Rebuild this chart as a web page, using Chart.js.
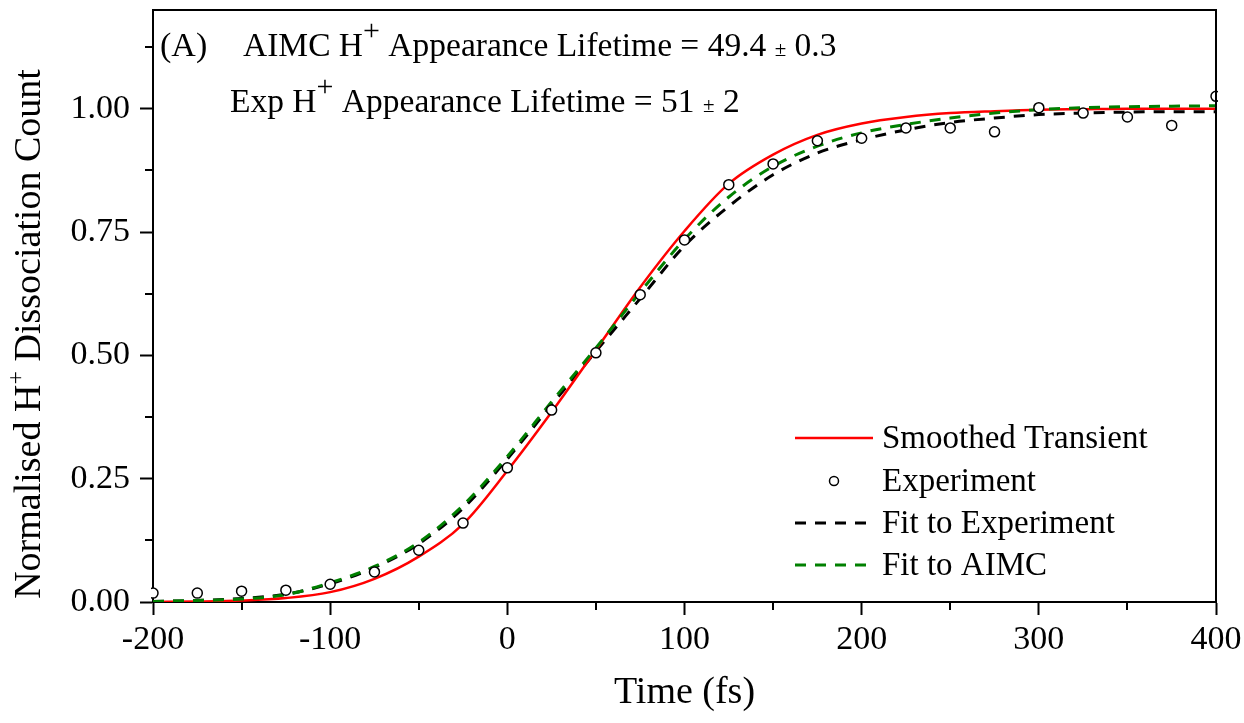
<!DOCTYPE html>
<html>
<head>
<meta charset="utf-8">
<script src="https://cdn.jsdelivr.net/npm/chart.js@4/dist/chart.umd.min.js"></script>
<style>
  html, body { margin: 0; padding: 0; background: #fff; }
  #wrap { width: 1244px; height: 723px; }
</style>
</head>
<body>
<div id="wrap"><canvas id="c" width="1244" height="723"></canvas></div>
<script>
// time axis (fs)
var timeFs = [-200, -175, -150, -125, -100, -75, -50, -25, 0, 25, 50, 75, 100,
              125, 150, 175, 200, 225, 250, 275, 300, 325, 350, 375, 400];
// experiment points
var expCounts = [0.018, 0.018, 0.022, 0.024, 0.036, 0.061, 0.105, 0.160, 0.272, 0.389, 0.505, 0.623, 0.734,
                 0.846, 0.888, 0.935, 0.940, 0.961, 0.961, 0.953, 1.002, 0.991, 0.983, 0.966, 1.025];
// curves sampled at the same times
var smoothed = [0.000, 0.001, 0.003, 0.008, 0.020, 0.047, 0.092, 0.158, 0.266, 0.385, 0.511, 0.638, 0.752,
                0.848, 0.907, 0.947, 0.970, 0.983, 0.991, 0.995, 0.998, 0.999, 1.000, 1.000, 1.000];
var fitExp = [0.001, 0.003, 0.007, 0.016, 0.037, 0.070, 0.118, 0.190, 0.290, 0.400, 0.508, 0.615, 0.722,
              0.802, 0.866, 0.910, 0.937, 0.957, 0.972, 0.981, 0.988, 0.991, 0.993, 0.994, 0.994];
var fitAimc = [0.001, 0.003, 0.006, 0.015, 0.039, 0.072, 0.121, 0.196, 0.295, 0.406, 0.515, 0.628, 0.735,
               0.821, 0.883, 0.924, 0.951, 0.968, 0.981, 0.991, 0.998, 1.002, 1.004, 1.005, 1.006];

var xTicks = [-200, -100, 0, 100, 200, 300, 400];
var xMinor = [-150, -50, 50, 150, 250, 350];
var yTicks = [0, 0.25, 0.5, 0.75, 1.0];
var yMinor = [0.125, 0.375, 0.625, 0.875, 1.125];

var serif = '"Liberation Serif", "Times New Roman", serif';

function pts(ys) {
    return timeFs.map(function (t, i) { return { x: t, y: ys[i] }; });
}

// minor ticks, frame, legend and text labels
var extras = {
    id: 'extras',
    afterDatasetsDraw: function (chart) {
        var ctx = chart.ctx;
        var a = chart.chartArea;
        var xs = chart.scales.x, ys = chart.scales.y;
        ctx.save();
        ctx.strokeStyle = '#000';
        ctx.lineWidth = 2;
        // frame top and right
        ctx.beginPath();
        ctx.moveTo(a.left, a.top);
        ctx.lineTo(a.right, a.top);
        ctx.lineTo(a.right, a.bottom);
        ctx.stroke();
        // minor ticks
        ctx.beginPath();
        xMinor.forEach(function (v) {
            var px = Math.round(xs.getPixelForValue(v));
            ctx.moveTo(px, a.bottom);
            ctx.lineTo(px, a.bottom + 8);
        });
        yMinor.forEach(function (v) {
            var py = Math.round(ys.getPixelForValue(v));
            ctx.moveTo(a.left, py);
            ctx.lineTo(a.left - 8, py);
        });
        ctx.stroke();

        // legend
        var rows = [438, 481, 523, 565];
        var ds = chart.data.datasets;
        var order = [1, 0, 3, 2];
        ctx.font = '33px ' + serif;
        ctx.fillStyle = '#000';
        ctx.textBaseline = 'middle';
        ctx.textAlign = 'left';
        order.forEach(function (di, r) {
            var d = ds[di];
            var y = rows[r];
            if (d.showLine === false) {
                ctx.beginPath();
                ctx.setLineDash([]);
                ctx.lineWidth = 1.5;
                ctx.strokeStyle = d.pointBorderColor;
                ctx.fillStyle = '#fff';
                ctx.arc(834, y, 4.5, 0, Math.PI * 2);
                ctx.fill();
                ctx.stroke();
            } else {
                ctx.beginPath();
                ctx.setLineDash(d.borderDash || []);
                ctx.lineWidth = d.borderWidth;
                ctx.strokeStyle = d.borderColor;
                ctx.moveTo(795, y);
                ctx.lineTo(873, y);
                ctx.stroke();
            }
            ctx.setLineDash([]);
            ctx.fillStyle = '#000';
            ctx.fillText(d.label, 882, y + 1);
        });
        ctx.restore();
    },
    afterDraw: function (chart) {
        var ctx = chart.ctx;
        var a = chart.chartArea;
        ctx.save();
        ctx.fillStyle = '#000';
        ctx.textBaseline = 'alphabetic';
        ctx.textAlign = 'left';

        // run of text pieces: [text, size, raise]
        function run(x, y, parts) {
            parts.forEach(function (p) {
                ctx.font = p[1] + 'px ' + serif;
                ctx.fillText(p[0], x, y - (p[2] || 0));
                x += ctx.measureText(p[0]).width;
            });
        }
        run(160, 56, [['(A)', 34]]);
        run(243, 56, [['AIMC H', 33.5], ['+', 30, 16], [' Appearance Lifetime = 49.4 ', 33.5], ['\u00b1', 21], [' 0.3', 33.5]]);
        run(230, 112, [['Exp H', 33.5], ['+', 30, 16], [' Appearance Lifetime = 51 ', 33.5], ['\u00b1', 21], [' 2', 33.5]]);

        // x title
        ctx.font = '38px ' + serif;
        ctx.textAlign = 'center';
        ctx.textBaseline = 'alphabetic';
        ctx.fillText('Time (fs)', (a.left + a.right) / 2, 703);

        // y title, rotated, with superscript
        ctx.translate(40, 334);
        ctx.rotate(-Math.PI / 2);
        ctx.textBaseline = 'alphabetic';
        ctx.textAlign = 'left';
        var p1 = 'Normalised H', p2 = '+', p3 = ' Dissociation Count';
        ctx.font = '38px ' + serif;
        var w1 = ctx.measureText(p1).width, w3 = ctx.measureText(p3).width;
        ctx.font = '24px ' + serif;
        var w2 = ctx.measureText(p2).width;
        var x0 = -(w1 + w2 + w3) / 2;
        ctx.font = '38px ' + serif;
        ctx.fillText(p1, x0, 0);
        ctx.font = '24px ' + serif;
        ctx.fillText(p2, x0 + w1, -17);
        ctx.font = '38px ' + serif;
        ctx.fillText(p3, x0 + w1 + w2, 0);
        ctx.restore();
    }
};

new Chart(document.getElementById('c'), {
    type: 'line',
    data: {
        datasets: [
            {
                label: 'Experiment',
                data: pts(expCounts),
                showLine: false,
                pointRadius: 5,
                pointBorderWidth: 1.5,
                pointBorderColor: '#000',
                pointBackgroundColor: '#fff',
                borderColor: '#000',
                order: 0,
                clip: 2
            },
            {
                label: 'Smoothed Transient',
                data: pts(smoothed),
                borderColor: '#ff0000',
                borderWidth: 2.5,
                pointRadius: 0,
                cubicInterpolationMode: 'monotone',
                order: 2
            },
            {
                label: 'Fit to AIMC',
                data: pts(fitAimc),
                borderColor: '#008000',
                borderWidth: 3,
                borderDash: [11, 9],
                pointRadius: 0,
                cubicInterpolationMode: 'monotone',
                order: 1
            },
            {
                label: 'Fit to Experiment',
                data: pts(fitExp),
                borderColor: '#000',
                borderWidth: 3,
                borderDash: [11, 9],
                pointRadius: 0,
                cubicInterpolationMode: 'monotone',
                order: 3
            }
        ]
    },
    options: {
        responsive: false,
        animation: false,
        layout: { padding: { top: 10, right: 28, left: 0, bottom: 0 } },
        plugins: { legend: { display: false }, tooltip: { enabled: false } },
        scales: {
            x: {
                type: 'linear',
                min: -200,
                max: 400,
                afterBuildTicks: function (s) { s.ticks = xTicks.map(function (v) { return { value: v }; }); },
                afterFit: function (s) { s.height = 121; s.paddingLeft = 0; s.paddingRight = 0; },
                grid: { drawOnChartArea: false, tickLength: 13, tickWidth: 2, tickColor: '#000' },
                border: { display: true, color: '#000', width: 2 },
                ticks: { color: '#000', font: { family: serif, size: 34 }, padding: 5, maxRotation: 0, autoSkip: false }
            },
            y: {
                type: 'linear',
                min: 0,
                max: 1.2,
                afterBuildTicks: function (s) { s.ticks = yTicks.map(function (v) { return { value: v }; }); },
                afterFit: function (s) { s.width = 153; s.paddingTop = 0; s.paddingBottom = 0; },
                grid: { drawOnChartArea: false, tickLength: 13, tickWidth: 2, tickColor: '#000' },
                border: { display: true, color: '#000', width: 2 },
                ticks: {
                    color: '#000', font: { family: serif, size: 34 }, padding: 10,
                    callback: function (v) { return Number(v).toFixed(2); }
                }
            }
        }
    },
    plugins: [extras]
});
</script>
</body>
</html>
